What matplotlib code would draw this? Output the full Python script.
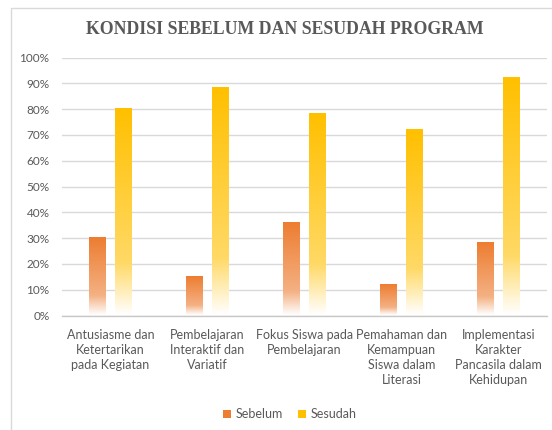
import matplotlib
matplotlib.use("Agg")
import matplotlib.pyplot as plt
import numpy as np
from matplotlib.patches import Rectangle, Patch
from matplotlib.colors import to_rgb

categories = [
    "Antusiasme dan\nKetertarikan\npada Kegiatan",
    "Pembelajaran\nInteraktif dan\nVariatif",
    "Fokus Siswa pada\nPembelajaran",
    "Pemahaman dan\nKemampuan\nSiswa dalam\nLiterasi",
    "Implementasi\nKarakter\nPancasila dalam\nKehidupan",
]
sebelum = [30, 15, 36, 12, 28]
sesudah = [80, 88, 78, 72, 92]
series_names = ["Sebelum", "Sesudah"]
yticks = [0, 10, 20, 30, 40, 50, 60, 70, 80, 90, 100]

col_seb = "#ED7D31"
col_ses = "#FFC000"
txt = "#595959"

fig = plt.figure(figsize=(5.52, 4.30), dpi=100)
ax = fig.add_axes([62/552, 1-315.5/430, (547-62)/552, 258/430])

ax.set_xlim(-0.5, len(categories) - 0.5)
ax.set_ylim(0, 100)

bw = 0.165
off = 0.134

def grad_bar(x, h, color):
    n = 200
    rel = np.linspace(0, 1, n)  # 0 bottom, 1 top
    t = np.where(rel < 0.25, rel / 0.25 * 0.6, 0.6 + (rel - 0.25) / 0.75 * 0.4)
    c = np.array(to_rgb(color))
    rgb = 1 - t[:, None] * (1 - c[None, :])
    img = np.tile(rgb[:, None, :], (1, 2, 1))
    ax.imshow(img, extent=[x - bw/2, x + bw/2, 0, h], origin="lower",
              aspect="auto", interpolation="bilinear", zorder=3)

xs = np.arange(len(categories))
for i in range(len(categories)):
    grad_bar(xs[i] - off, sebelum[i], col_seb)
    grad_bar(xs[i] + off, sesudah[i], col_ses)

ax.set_xlim(-0.5, len(categories) - 0.5)
ax.set_ylim(0, 100)

ax.set_yticks(yticks)
ax.set_yticklabels([f"{v}%" for v in yticks], fontsize=8.5, color=txt, family="Lato")
ax.set_xticks(xs)
ax.set_xticklabels(categories, fontsize=9, color=txt, family="Lato", linespacing=1.3, va="top")
ax.tick_params(axis="y", length=0, pad=9)
ax.tick_params(axis="x", length=0, pad=10)
ax.yaxis.grid(True, color="#D9D9D9", lw=1)
ax.set_axisbelow(True)
for s in ["top", "right", "left"]:
    ax.spines[s].set_visible(False)
ax.spines["bottom"].set_color("#C8C8C8")
ax.spines["bottom"].set_linewidth(1)

fig.text(285/552, 1-30/430, "KONDISI SEBELUM DAN SESUDAH PROGRAM", ha="center", va="center",
         fontsize=12.8, fontweight="bold", color=txt, family="Liberation Serif")

fig.patches.append(Rectangle((11/552, -0.1), 1.2, 1 - 8/430 + 0.1, transform=fig.transFigure,
                             fill=False, edgecolor="#D9D9D9", lw=1))

handles = [Patch(facecolor=col_seb, edgecolor="none"), Patch(facecolor=col_ses, edgecolor="none")]
fig.legend(handles, series_names, loc="center", bbox_to_anchor=(290/552, 1-414/430), ncol=2,
           frameon=False, handlelength=0.6, handleheight=0.6, handletextpad=0.4, columnspacing=1.2,
           prop={"family": "Lato", "size": 9}, labelcolor=txt)

fig.savefig("out.png", dpi=100)
